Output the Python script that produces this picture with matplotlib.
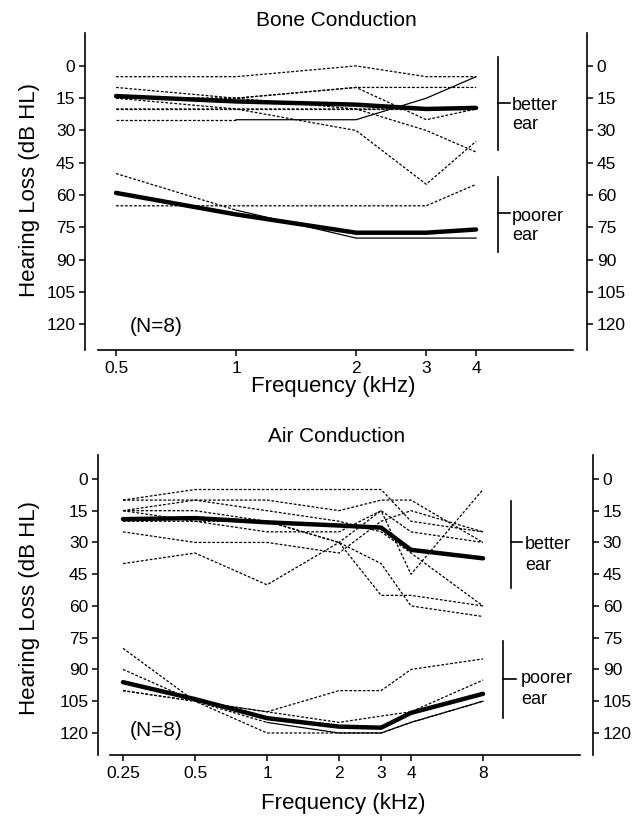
import matplotlib
matplotlib.use("Agg")
import matplotlib.pyplot as plt
from matplotlib.ticker import FixedLocator, NullLocator

plt.rcParams['font.family'] = ['Liberation Sans', 'DejaVu Sans']

# ---------------- data ----------------
bone_freq = [0.5, 1, 2, 3, 4]
bone_freq_labels = ['0.5', '1', '2', '3', '4']
bone_better = [
    [5, 5, 0, 5, 5],
    [10, 15, 10, 10, 10],
    [15, 15, 10, 25, 20],
    [15, 20, 30, 55, 35],
    [20, 20, 20, 30, 40],
    [15, 15, 20, 20, 20],
    [20, 20, 20, 20, 20],
]
bone_better_solid = [25, 25, 25, 15, 5]
bone_better_mean = [14, 16.5, 18, 20, 19.5]
bone_poorer = [
    [65, 65, 65, 65, 55],
]
bone_poorer_solid = [50, 67, 80, 80, 80]
bone_poorer_mean = [59, 69, 77.5, 77.5, 76]

air_freq = [0.25, 0.5, 1, 2, 3, 4, 8]
air_freq_labels = ['0.25', '0.5', '1', '2', '3', '4', '8']
air_better = [
    [10, 5, 5, 5, 5, 20, 25],
    [10, 10, 10, 15, 10, 10, 30],
    [15, 10, 15, 20, 25, 35, 60],
    [15, 15, 20, 30, 55, 55, 60],
    [15, 20, 20, 30, 40, 60, 65],
    [20, 20, 25, 25, 15, 45, 5],
    [25, 30, 30, 35, 20, 15, 25],
    [40, 35, 50, 30, 15, 25, 30],
]
air_better_mean = [19, 18.5, 20.5, 22, 23, 33.5, 37.5]
air_poorer = [
    [80, 105, 110, 100, 100, 90, 85],
    [90, 105, 120, 120, 120, 115, 105],
    [100, 105, 110, 115, 112, 110, 95],
]
air_poorer_solid = [100, 105, 115, 120, 120, 115, 105]
air_poorer_mean = [96, 104, 113, 117, 117.5, 110.5, 101.5]

yticks = [0, 15, 30, 45, 60, 75, 90, 105, 120]

W, H = 640, 817
fig = plt.figure(figsize=(W / 100, H / 100), dpi=100)

DOT = (0, (2.2, 1.4))
TICK_FS = 12.5
LAB_FS = 16
BR_FS = 13


def make_axes(rect_px, xlim, ylim, xticks, xlabels, xbounds):
    l, t, r, b = rect_px
    ax = fig.add_axes([l / W, 1 - b / H, (r - l) / W, (b - t) / H])
    ax.set_xscale('log')
    ax.set_xlim(*xlim)
    ax.set_ylim(*ylim)
    ax.xaxis.set_major_locator(FixedLocator(xticks))
    ax.xaxis.set_minor_locator(NullLocator())
    ax.set_xticklabels(xlabels)
    ax.set_yticks(yticks)
    ax.spines['top'].set_visible(False)
    for s in ['left', 'right', 'bottom']:
        ax.spines[s].set_linewidth(1.2)
    ax.spines['bottom'].set_bounds(*xbounds)
    ax.tick_params(axis='both', direction='out', length=4, width=1.1,
                   labelsize=TICK_FS, pad=3)
    ax.tick_params(axis='y', right=True, labelright=True)
    ax.tick_params(axis='x', pad=4)
    ax.patch.set_visible(False)
    return ax


def bracket(ax, x0, x1, y0, y1, ytick, lab1, y_lab1, y_lab2, xtext):
    tr = ax.get_yaxis_transform()
    ax.plot([x0, x0], [y0, y1], color='black', lw=1.2, transform=tr, clip_on=False)
    ax.plot([x0, x1], [ytick, ytick], color='black', lw=1.2, transform=tr, clip_on=False)
    ax.text(xtext, y_lab1, lab1, transform=tr, ha='left', va='center', fontsize=BR_FS)
    ax.text(xtext, y_lab2, 'ear', transform=tr, ha='left', va='center', fontsize=BR_FS)


# ---------------- Bone conduction ----------------
ax1 = make_axes((85, 33, 587, 350), (0.418, 7.59), (132, -15.3),
                bone_freq, bone_freq_labels, (0.45, 7.0))
for s in bone_better + bone_poorer:
    ax1.plot(bone_freq, s, color='black', lw=0.9, ls=DOT)
ax1.plot(bone_freq[:2], bone_better_solid[:2], color='black', lw=0.9, ls=DOT)
ax1.plot(bone_freq[1:], bone_better_solid[1:], color='black', lw=0.9)
ax1.plot(bone_freq[:2], bone_poorer_solid[:2], color='black', lw=0.9, ls=DOT)
ax1.plot(bone_freq[1:], bone_poorer_solid[1:], color='black', lw=0.9)
ax1.plot(bone_freq, bone_better_mean, color='black', lw=3.2, solid_capstyle='round')
ax1.plot(bone_freq, bone_poorer_mean, color='black', lw=3.2, solid_capstyle='round')
ax1.text(0.542, 121, '(N=8)', fontsize=15, ha='left', va='center')
bracket(ax1, 0.823, 0.847, -4, 39, 17, 'better', 18.5, 27, 0.851)
bracket(ax1, 0.823, 0.847, 51.5, 86.5, 68.5, 'poorer', 70, 79, 0.851)

fig.text(336 / W, 1 - 20 / H, 'Bone Conduction', ha='center', va='center', fontsize=15)
fig.text(333 / W, 1 - 387 / H, 'Frequency (kHz)', ha='center', va='center', fontsize=LAB_FS)
fig.text(30 / W, 1 - 190 / H, 'Hearing Loss (dB HL)', ha='center', va='center',
         rotation=90, fontsize=LAB_FS)

# ---------------- Air conduction ----------------
ax2 = make_axes((98, 455, 593, 755), (0.1965, 23.07), (130.4, -11.3),
                air_freq, air_freq_labels, (0.22, 20.4))
for s in air_better + air_poorer:
    ax2.plot(air_freq, s, color='black', lw=0.9, ls=DOT)
ax2.plot(air_freq[:3], air_poorer_solid[:3], color='black', lw=0.9, ls=DOT)
ax2.plot(air_freq[2:], air_poorer_solid[2:], color='black', lw=0.9)
ax2.plot(air_freq, air_better_mean, color='black', lw=3.2, solid_capstyle='round')
ax2.plot(air_freq, air_poorer_mean, color='black', lw=3.2, solid_capstyle='round')
ax2.text(0.268, 119, '(N=8)', fontsize=15, ha='left', va='center')
bracket(ax2, 0.834, 0.857, 10.4, 51.5, 29.8, 'better', 31, 41, 0.863)
bracket(ax2, 0.818, 0.844, 76.5, 113, 94.5, 'poorer', 94.5, 104, 0.855)

fig.text(337 / W, 1 - 437 / H, 'Air Conduction', ha='center', va='center', fontsize=15)
fig.text(343 / W, 1 - 803 / H, 'Frequency (kHz)', ha='center', va='center', fontsize=LAB_FS)
fig.text(30 / W, 1 - 608 / H, 'Hearing Loss (dB HL)', ha='center', va='center',
         rotation=90, fontsize=LAB_FS)

fig.savefig('out.png', dpi=100)
